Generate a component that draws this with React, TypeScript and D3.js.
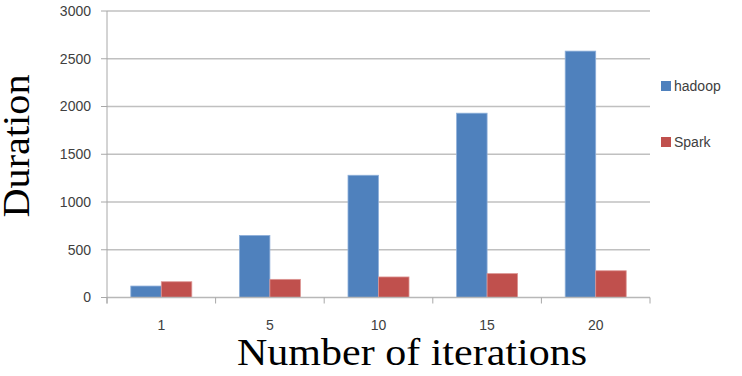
import React from "react";
import * as d3 from "d3";

const categories = ["1", "5", "10", "15", "20"];
const seriesNames = ["hadoop", "Spark"];
const hadoop = [120, 650, 1280, 1930, 2580];
const spark = [165, 190, 215, 250, 280];
const yTicks = [0, 500, 1000, 1500, 2000, 2500, 3000];
const colors = ["#4F81BD", "#C0504D"];

export default function App() {
  const W = 742, H = 376;
  const left = 107, right = 650, top = 11, bottom = 297.5;
  const x = d3.scaleBand<string>().domain(categories).range([left, right]).padding(0);
  const inner = d3.scaleBand<string>().domain(seriesNames).range([0, x.bandwidth()]).paddingInner(0).paddingOuter(0.78);
  const y = d3.scaleLinear().domain([0, 3000]).range([bottom, top]);
  const series = [hadoop, spark];
  const tickFont = "'Liberation Sans', Arial, sans-serif";
  const boundaries = [...categories.map((c) => x(c) as number), right];

  return (
    <svg width={W} height={H} style={{ position: "absolute", left: 0, top: 0, background: "#fff" }}>
      {yTicks.filter((t) => t > 0).map((t) => (
        <line key={"g" + t} x1={left} x2={right} y1={y(t)} y2={y(t)} stroke="#C0C0C0" strokeWidth={1.5} />
      ))}
      {series.map((vals, si) =>
        categories.map((c, ci) => {
          const bx = (x(c) as number) + (inner(seriesNames[si]) as number);
          return (
            <rect key={si + "-" + c} x={bx} y={y(vals[ci])} width={inner.bandwidth()} height={bottom - y(vals[ci])}
              fill={colors[si]} stroke={si === 0 ? "#8FB0DA" : "#DC9492"} strokeWidth={0.8} />
          );
        })
      )}
      <line x1={left} x2={right} y1={bottom} y2={bottom} stroke="#B8B8B8" strokeWidth={1.5} />
      <line x1={left} x2={left} y1={top} y2={bottom + 6} stroke="#A8A8A8" strokeWidth={1} />
      {yTicks.map((t) => (
        <g key={"yt" + t}>
          <line x1={left - 6} x2={left} y1={y(t)} y2={y(t)} stroke="#A8A8A8" strokeWidth={1} />
          <text x={91} y={y(t)} dy="0.35em" textAnchor="end" fontFamily={tickFont} fontSize={14} fill="#404040">{t}</text>
        </g>
      ))}
      {boundaries.map((b, i) => (
        <line key={"xt" + i} x1={b} x2={b} y1={bottom} y2={bottom + 6} stroke="#A8A8A8" strokeWidth={1} />
      ))}
      {categories.map((c) => (
        <text key={"xl" + c} x={(x(c) as number) + x.bandwidth() / 2} y={325} dy="0.35em" textAnchor="middle"
          fontFamily={tickFont} fontSize={14} fill="#404040">{c}</text>
      ))}
      {seriesNames.map((s, i) => {
        const ly = i === 0 ? 86 : 142;
        return (
          <g key={"lg" + s}>
            <rect x={661} y={ly - 5} width={10} height={10} fill={colors[i]} />
            <text x={674} y={ly} dy="0.35em" fontFamily={tickFont} fontSize={14} fill="#404040">{s}</text>
          </g>
        );
      })}
      <text x={412} y={365} textAnchor="middle" fontFamily="'Liberation Serif', 'Times New Roman', serif" fontSize={38}
        textLength={350} lengthAdjust="spacingAndGlyphs" fill="#000">Number of iterations</text>
      <text transform="translate(29,146) rotate(-90)" textAnchor="middle" fontFamily="'Liberation Serif', 'Times New Roman', serif"
        fontSize={38} textLength={143} lengthAdjust="spacingAndGlyphs" fill="#000">Duration</text>
    </svg>
  );
}
